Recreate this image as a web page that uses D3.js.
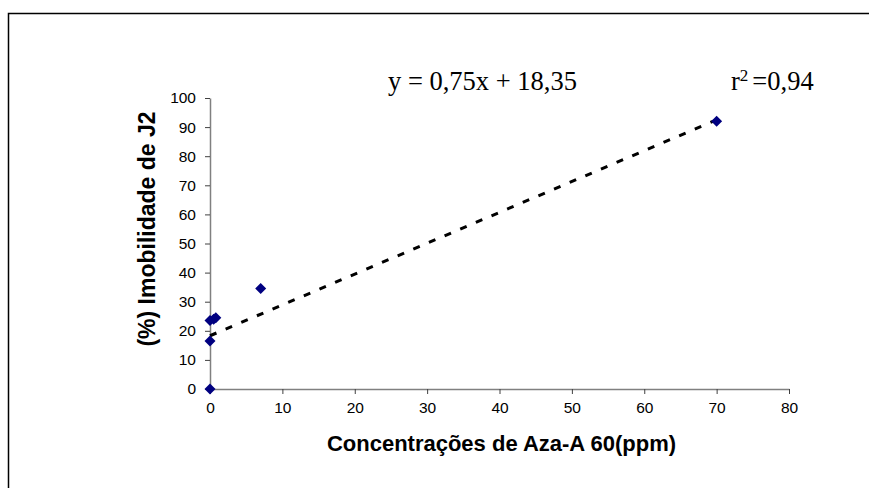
<!DOCTYPE html>
<html>
<head>
<meta charset="utf-8">
<script src="https://cdn.jsdelivr.net/npm/d3@7"></script>
<style>
  body { margin: 0; background: #fff; }
  svg { display: block; }
</style>
</head>
<body>
<div id="chart"></div>
<script>
// data
const concX = [0, 0, 0, 0.5, 0.8, 7, 70];
const imobY = [0, 16.5, 23.5, 24, 24.5, 34.5, 92];
const xTicks = [0, 10, 20, 30, 40, 50, 60, 70, 80];
const yTicks = [0, 10, 20, 30, 40, 50, 60, 70, 80, 90, 100];
// trendline as drawn (its ends)
const trendX = [0, 70];
const trendY = [18.3, 92.5];
const eqText = "y = 0,75x + 18,35";
const r2Text = "=0,94";

const W = 869, H = 488;
const plot = { left: 210, right: 789, top: 98, bottom: 389 };
const sans = "Liberation Sans, Arial, sans-serif";
const serif = "Liberation Serif, Times New Roman, serif";

const svg = d3.select("#chart").append("svg")
  .attr("width", W).attr("height", H);

// outer chart border (runs off the frame on right/bottom)
svg.append("rect")
  .attr("x", 8.5).attr("y", 13.5)
  .attr("width", W + 10).attr("height", H + 10)
  .attr("fill", "#fff").attr("stroke", "#000").attr("stroke-width", 1.5);

const x = d3.scaleLinear().domain([0, 80]).range([plot.left, plot.right]);
const y = d3.scaleLinear().domain([0, 100]).range([plot.bottom, plot.top]);

//axes
const xAxis = svg.append("g")
  .attr("transform", "translate(0," + plot.bottom + ")")
  .call(d3.axisBottom(x).tickValues(xTicks).tickSize(5).tickSizeOuter(0));
const yAxis = svg.append("g")
  .attr("transform", "translate(" + plot.left + ",0)")
  .call(d3.axisLeft(y).tickValues(yTicks).tickSize(5).tickSizeOuter(0));

[xAxis, yAxis].forEach(g => {
  g.select(".domain").attr("stroke", "#808080").attr("stroke-width", 1.5);
  g.selectAll(".tick line").attr("stroke", "#404040");
  g.selectAll(".tick text")
    .attr("fill", "#000")
    .style("font-family", sans)
    .style("font-size", "15.5px");
});
xAxis.selectAll(".tick text").attr("y", 10).attr("dy", "0.9em");
yAxis.selectAll(".tick text").attr("x", -14);

// trendline
const line = d3.line().x(d => x(d[0])).y(d => y(d[1]));
svg.append("path")
  .datum(trendX.map((d, i) => [d, trendY[i]]))
  .attr("d", line)
  .attr("fill", "none")
  .attr("stroke", "#000").attr("stroke-width", 3)
  .attr("stroke-dasharray", "7,10");

// markers
const pts = concX.map((d, i) => ({ cx: d, cy: imobY[i] }));
svg.append("g").selectAll("path")
  .data(pts)
  .enter()
  .append("path")
  .attr("d", "M0,-5.5L5.5,0L0,5.5L-5.5,0Z")
  .attr("transform", d => "translate(" + x(d.cx) + "," + y(d.cy) + ")")
  .attr("fill", "#000080");

// equation texts
svg.append("text")
  .attr("x", 388).attr("y", 90)
  .style("font-family", serif)
  .style("font-size", "26.5px")
  .text(eqText);

const r2 = svg.append("text")
  .attr("x", 731).attr("y", 90)
  .style("font-family", serif)
  .style("font-size", "26.5px");
r2.append("tspan").text("r");
r2.append("tspan").attr("dy", -9).style("font-size", "17px").text("2");
r2.append("tspan").attr("dy", 9).attr("dx", 4).text(r2Text);

// axis titles
svg.append("text")
  .attr("x", (plot.left + plot.right) / 2 + 2).attr("y", 451)
  .attr("text-anchor", "middle")
  .style("font-family", sans)
  .style("font-weight", "bold").style("font-size", "22px")
  .text("Concentrações de Aza-A 60(ppm)");

svg.append("text")
  .attr("transform", "translate(155,229) rotate(-90)")
  .attr("text-anchor", "middle")
  .style("font-family", sans)
  .style("font-weight", "bold").style("font-size", "23px")
  .text("(%) Imobilidade de J2");
</script>
</body>
</html>
